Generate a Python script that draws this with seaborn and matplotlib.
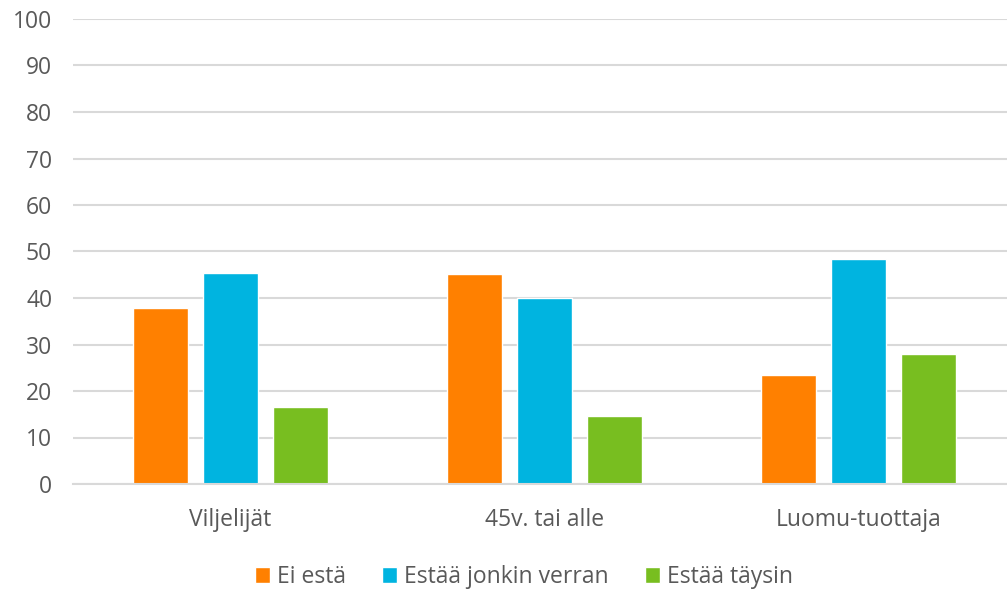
import pandas as pd
import numpy as np
import matplotlib
matplotlib.use("Agg")
import matplotlib.pyplot as plt
import seaborn as sns

# values (%)
categories = ["Viljelijät", "45v. tai alle", "Luomu-tuottaja"]
series = ["Ei estä", "Estää jonkin verran", "Estää täysin"]
ei_esta = [37.8, 45.1, 23.5]
estaa_jonkin = [45.3, 40.1, 48.4]
estaa_taysin = [16.5, 14.7, 28.0]
colors = ["#FF8000", "#00B4E0", "#78BE20"]

rows = []
for name, vals in zip(series, [ei_esta, estaa_jonkin, estaa_taysin]):
    for cat, v in zip(categories, vals):
        rows.append({"ryhma": cat, "vastaus": name, "osuus": v})
df = pd.DataFrame(rows)

sns.set_style("white")
plt.rcParams['font.family'] = ['Open Sans', 'DejaVu Sans']

fig = plt.figure(figsize=(10.07, 5.92), dpi=100)
ax = fig.add_axes([73 / 1007, 1 - 484 / 592, 943 / 1007, 465 / 592])

sns.barplot(data=df, x="ryhma", y="osuus", hue="vastaus", order=categories,
            hue_order=series, palette=colors, width=0.668, gap=0.214,
            saturation=1, ax=ax, legend=True)

ax.set_ylim(0, 100)
ax.set_xlim(-0.5, 2.5)
ax.set_yticks(np.arange(0, 101, 10))
ax.yaxis.grid(True, color="#d9d9d9", linewidth=1.5)
ax.set_axisbelow(True)
for s in ["top", "right", "left"]:
    ax.spines[s].set_visible(False)
ax.spines["bottom"].set_color("#d9d9d9")
ax.spines["bottom"].set_linewidth(1.5)
ax.tick_params(axis="both", length=0, labelsize=16.5, labelcolor="#595959")
ax.tick_params(axis="y", pad=15)
ax.tick_params(axis="x", pad=17)
ax.set_xlabel("")
ax.set_ylabel("")

handles, labels = ax.get_legend_handles_labels()
ax.legend(handles, labels, loc="center", bbox_to_anchor=(524 / 1007, 1 - 577 / 592),
          bbox_transform=fig.transFigure, ncol=3, frameon=False, fontsize=16.5,
          labelcolor="#595959", handlelength=0.65, handleheight=0.65,
          handletextpad=0.3, columnspacing=1.6)

fig.savefig("out.png", dpi=100)
